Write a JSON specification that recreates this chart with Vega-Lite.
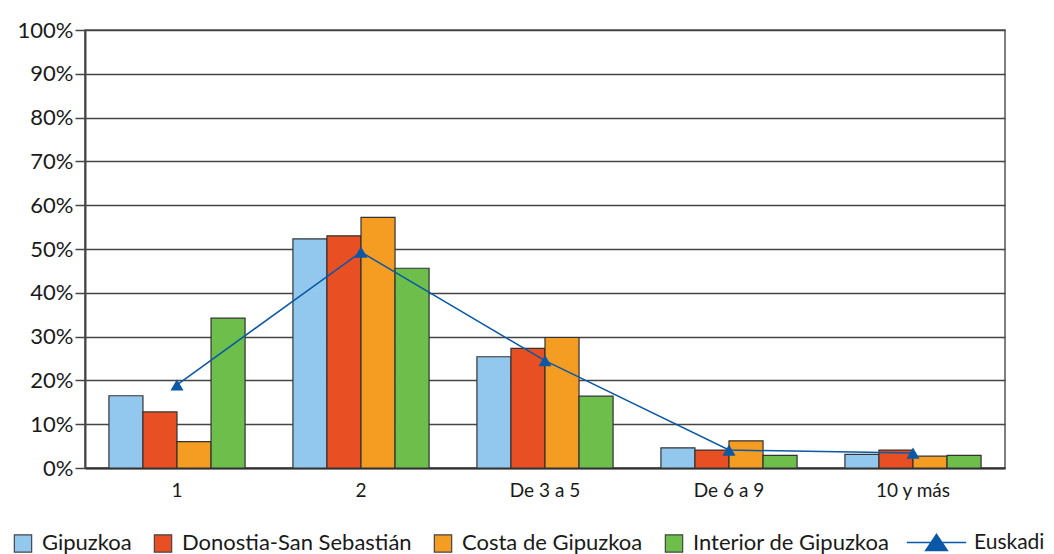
{
  "$schema": "https://vega.github.io/schema/vega-lite/v6.json",
  "width": 920,
  "height": 438,
  "autosize": "none",
  "padding": {"left": 85, "top": 30, "right": 49, "bottom": 86},
  "background": "white",
  "config": {
    "font": "Lato",
    "view": {"stroke": "#555", "strokeWidth": 1.5},
    "axis": {"labelFont": "Lato", "labelColor": "#1a1a1a"},
    "legend": {"padding": 0}
  },
  "datasets": {
    "bars": [
      {"grupo": "1", "serie": "Gipuzkoa", "valor": 0.165},
      {"grupo": "1", "serie": "Donostia-San Sebastián", "valor": 0.128},
      {"grupo": "1", "serie": "Costa de Gipuzkoa", "valor": 0.060},
      {"grupo": "1", "serie": "Interior de Gipuzkoa", "valor": 0.342},
      {"grupo": "2", "serie": "Gipuzkoa", "valor": 0.523},
      {"grupo": "2", "serie": "Donostia-San Sebastián", "valor": 0.530},
      {"grupo": "2", "serie": "Costa de Gipuzkoa", "valor": 0.572},
      {"grupo": "2", "serie": "Interior de Gipuzkoa", "valor": 0.456},
      {"grupo": "De 3 a 5", "serie": "Gipuzkoa", "valor": 0.254},
      {"grupo": "De 3 a 5", "serie": "Donostia-San Sebastián", "valor": 0.273},
      {"grupo": "De 3 a 5", "serie": "Costa de Gipuzkoa", "valor": 0.298},
      {"grupo": "De 3 a 5", "serie": "Interior de Gipuzkoa", "valor": 0.164},
      {"grupo": "De 6 a 9", "serie": "Gipuzkoa", "valor": 0.046},
      {"grupo": "De 6 a 9", "serie": "Donostia-San Sebastián", "valor": 0.041},
      {"grupo": "De 6 a 9", "serie": "Costa de Gipuzkoa", "valor": 0.062},
      {"grupo": "De 6 a 9", "serie": "Interior de Gipuzkoa", "valor": 0.029},
      {"grupo": "10 y más", "serie": "Gipuzkoa", "valor": 0.031},
      {"grupo": "10 y más", "serie": "Donostia-San Sebastián", "valor": 0.041},
      {"grupo": "10 y más", "serie": "Costa de Gipuzkoa", "valor": 0.027},
      {"grupo": "10 y más", "serie": "Interior de Gipuzkoa", "valor": 0.029}
    ],
    "linea": [
      {"grupo": "1", "serie": "Euskadi", "valor": 0.190},
      {"grupo": "2", "serie": "Euskadi", "valor": 0.493},
      {"grupo": "De 3 a 5", "serie": "Euskadi", "valor": 0.245},
      {"grupo": "De 6 a 9", "serie": "Euskadi", "valor": 0.041},
      {"grupo": "10 y más", "serie": "Euskadi", "valor": 0.034}
    ]
  },
  "encoding": {
    "x": {
      "field": "grupo",
      "type": "nominal",
      "sort": ["1", "2", "De 3 a 5", "De 6 a 9", "10 y más"],
      "scale": {"paddingInner": 0.26, "paddingOuter": 0.13},
      "axis": {
        "title": null,
        "labelAngle": 0,
        "labelFontSize": 19,
        "labelPadding": 13,
        "ticks": false,
        "domain": true,
        "domainColor": "#333",
        "domainWidth": 2,
        "grid": false
      }
    },
    "y": {
      "field": "valor",
      "type": "quantitative",
      "scale": {"domain": [0, 1], "nice": false},
      "axis": {
        "title": null,
        "format": ".0%",
        "values": [0, 0.1, 0.2, 0.3, 0.4, 0.5, 0.6, 0.7, 0.8, 0.9, 1],
        "labelFontSize": 22,
        "labelPadding": 2,
        "tickSize": 10,
        "tickColor": "#444",
        "tickWidth": 1.5,
        "domainColor": "#444",
        "domainWidth": 2,
        "grid": true,
        "gridColor": "#444",
        "gridWidth": 1.5,
        "gridOpacity": 1
      }
    }
  },
  "layer": [
    {
      "data": {"name": "bars"},
      "mark": {"type": "bar", "stroke": "#333", "strokeWidth": 1.2},
      "encoding": {
        "xOffset": {
          "field": "serie",
          "type": "nominal",
          "sort": ["Gipuzkoa", "Donostia-San Sebastián", "Costa de Gipuzkoa", "Interior de Gipuzkoa"],
          "scale": {"paddingInner": 0, "paddingOuter": 0}
        },
        "color": {
          "field": "serie",
          "type": "nominal",
          "sort": ["Gipuzkoa", "Donostia-San Sebastián", "Costa de Gipuzkoa", "Interior de Gipuzkoa"],
          "scale": {
            "domain": ["Gipuzkoa", "Donostia-San Sebastián", "Costa de Gipuzkoa", "Interior de Gipuzkoa"],
            "range": ["#93C8EE", "#E85024", "#F59D22", "#6DBE4B"]
          },
          "legend": {
            "title": null,
            "orient": "none",
            "direction": "horizontal",
            "legendX": -73,
            "legendY": 502,
            "labelFont": "Lato",
            "labelFontSize": 22,
            "labelColor": "#1a1a1a",
            "labelOffset": 8,
            "labelLimit": 0,
            "columnPadding": 19,
            "symbolSize": 300,
            "symbolType": "square",
            "symbolStrokeColor": "#444",
            "symbolStrokeWidth": 1.2,
            "encode": {
              "symbols": {
                "update": {
                  "stroke": {"value": "#444"},
                  "strokeWidth": {"value": 1.2},
                  "opacity": {"value": 1}
                }
              }
            }
          }
        }
      }
    },
    {
      "data": {"name": "linea"},
      "mark": {"type": "line", "strokeWidth": 1.5},
      "encoding": {
        "stroke": {
          "field": "serie",
          "type": "nominal",
          "scale": {"domain": ["Euskadi"], "range": ["#0A58A6"]},
          "legend": {
            "title": null,
            "orient": "none",
            "direction": "horizontal",
            "legendX": 841,
            "legendY": 502,
            "labelFont": "Lato",
            "labelFontSize": 21,
            "labelColor": "#1a1a1a",
            "labelOffset": 27,
            "labelLimit": 0,
            "symbolSize": 324,
            "encode": {
              "symbols": {
                "update": {
                  "shape": {"value": "M-3.3,0H3.3M0,-0.9L1.2,0.9L-1.2,0.9Z"},
                  "fill": {"value": "#0A58A6"},
                  "stroke": {"value": "#0A58A6"},
                  "strokeWidth": {"value": 1.5},
                  "opacity": {"value": 1}
                }
              }
            }
          }
        }
      }
    },
    {
      "data": {"name": "linea"},
      "mark": {"type": "point", "shape": "triangle-up", "size": 170, "filled": true, "color": "#0A58A6", "opacity": 1},
      "encoding": {}
    }
  ]
}
